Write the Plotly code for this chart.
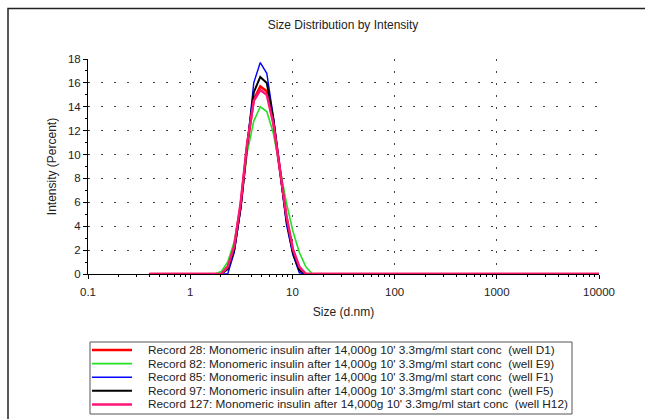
import plotly.graph_objects as go

# ---- data ----
sizes = [0.4, 1.736, 2.010, 2.328, 2.696, 3.122, 3.615, 4.187, 4.849, 5.615,
         6.503, 7.531, 8.721, 10.10, 11.70, 13.54, 15.69, 10000]
rec28 = [0, 0, 0, 0.6, 2.2, 5.8, 10.8, 14.6, 15.7, 15.3, 12.8, 8.8, 4.8, 2.0, 0.5, 0, 0, 0]
rec82 = [0, 0, 0.2, 1.0, 2.7, 5.8, 10.2, 12.8, 14.0, 13.6, 11.8, 8.9, 6.0, 3.6, 1.8, 0.6, 0, 0]
rec85 = [0, 0, 0, 0, 1.8, 5.5, 10.8, 16.0, 17.7, 16.8, 13.2, 8.6, 4.2, 1.6, 0.1, 0, 0, 0]
rec97 = [0, 0, 0, 0.4, 2.0, 5.6, 10.8, 15.2, 16.5, 16.0, 13.0, 8.8, 4.6, 1.8, 0.3, 0, 0, 0]
rec127 = [0, 0, 0, 0.6, 2.3, 6.0, 11.0, 14.5, 15.4, 15.0, 12.6, 8.8, 4.9, 2.1, 0.6, 0, 0, 0]

series = [rec28, rec82, rec85, rec97, rec127]
names = [
    "Record 28: Monomeric insulin after 14,000g 10' 3.3mg/ml start conc\u00a0 (well D1)",
    "Record 82: Monomeric insulin after 14,000g 10' 3.3mg/ml start conc\u00a0 (well E9)",
    "Record 85: Monomeric insulin after 14,000g 10' 3.3mg/ml start conc\u00a0 (well F1)",
    "Record 97: Monomeric insulin after 14,000g 10' 3.3mg/ml start conc\u00a0 (well F5)",
    "Record 127: Monomeric insulin after 14,000g 10' 3.3mg/ml start conc\u00a0 (well H12)",
]
colors = ["#ff0000", "#22e022", "#0000ff", "#000000", "#ff1477"]
widths = [2.5, 1.6, 1.4, 2.0, 2.5]

x_tickvals = [0.1, 1, 10, 100, 1000, 10000]
x_ticktext = ["0.1", "1", "10", "100", "1000", "10000"]

# ---- layout geometry (pixels) ----
W, H = 645, 419
L, R, T, B = 88, 599, 59, 274
pw, ph = R - L, B - T


def px(x):
    return (x - L) / pw


def py(y):
    return (B - y) / ph


FONT = "Liberation Sans, Arial, sans-serif"

fig = go.Figure()
for s, n, c, w in zip(series, names, colors, widths):
    fig.add_trace(go.Scatter(x=sizes, y=s, mode="lines", name=n,
                             line=dict(color=c, width=w), showlegend=False))

shapes = [
    # outer frame
    dict(type="rect", xref="paper", yref="paper", x0=px(8), x1=px(660),
         y0=py(440), y1=py(8.5), line=dict(color="#222", width=1.5),
         layer="below"),
    # legend box
    dict(type="rect", xref="paper", yref="paper", x0=px(90), x1=px(572),
         y0=py(414), y1=py(342), line=dict(color="#555", width=1)),
]
annotations = []
for i, (n, c, w) in enumerate(zip(names, colors, widths)):
    yy = 350 + 13.6 * i
    shapes.append(dict(type="line", xref="paper", yref="paper",
                       x0=px(92), x1=px(132), y0=py(yy), y1=py(yy),
                       line=dict(color=c, width=w)))
    annotations.append(dict(xref="paper", yref="paper", x=px(146), y=py(yy),
                            text=n, showarrow=False, xanchor="left",
                            yanchor="middle",
                            font=dict(family=FONT, size=11.8, color="#222")))

fig.update_layout(
    width=W, height=H,
    margin=dict(l=L, r=W - R, t=T, b=H - B, pad=0),
    paper_bgcolor="white", plot_bgcolor="white",
    title=dict(text="Size Distribution by Intensity", x=343 / W, xanchor="center",
               y=1 - 25 / H, yanchor="middle",
               font=dict(family=FONT, size=12, color="#222")),
    font=dict(family=FONT, size=11, color="#222"),
    shapes=shapes, annotations=annotations,
    showlegend=False,
)
fig.update_xaxes(
    type="log", range=[-1, 4],
    tickvals=x_tickvals, ticktext=x_ticktext,
    ticks="outside", ticklen=4, tickcolor="black",
    showline=True, linecolor="black", linewidth=1,
    showgrid=True, gridcolor="#444", gridwidth=1, griddash="2px,10px",
    zeroline=False,
    minor=dict(ticks="outside", ticklen=2, tickcolor="black", dtick="D1", showgrid=False),
    title=dict(text="Size (d.nm)", font=dict(family=FONT, size=12, color="#222"), standoff=10),
    tickfont=dict(family=FONT, size=11.5, color="#222"),
    ticklabelstandoff=3,
)
fig.update_yaxes(
    range=[0, 18], dtick=2,
    ticks="outside", ticklen=4, tickcolor="black",
    showline=True, linecolor="black", linewidth=1,
    showgrid=True, gridcolor="#444", gridwidth=1, griddash="2px,11px",
    zeroline=False,
    minor=dict(ticks="outside", ticklen=2, tickcolor="black", dtick=1, showgrid=False),
    title=dict(text="Intensity (Percent)", font=dict(family=FONT, size=12, color="#222"), standoff=8),
    tickfont=dict(family=FONT, size=11.5, color="#222"),
)

fig.write_html("out.html")
